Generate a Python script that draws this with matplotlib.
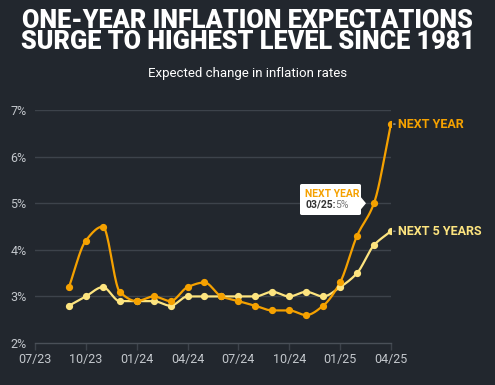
import numpy as np
import matplotlib.pyplot as plt
from matplotlib.patches import FancyBboxPatch, Polygon

# months since 07/23 (0 = 07/23)
months = list(range(2, 22))
next_year = [3.2, 4.2, 4.5, 3.1, 2.9, 3.0, 2.9, 3.2, 3.3, 3.0,
             2.9, 2.8, 2.7, 2.7, 2.6, 2.8, 3.3, 4.3, 5.0, 6.7]
next_5_years = [2.8, 3.0, 3.2, 2.9, 2.9, 2.9, 2.8, 3.0, 3.0, 3.0,
                3.0, 3.0, 3.1, 3.0, 3.1, 3.0, 3.2, 3.5, 4.1, 4.4]
tick_pos = [0, 3, 6, 9, 12, 15, 18, 21]
tick_labels = ["07/23", "10/23", "01/24", "04/24", "07/24", "10/24", "01/25", "04/25"]
y_ticks = [2, 3, 4, 5, 6, 7]

BG = "#22272e"
ORANGE = "#f5a100"
YELLOW = "#fde47f"
GRID = "#3d434b"
TICK = "#c3c7cc"


def monotone(x, y, n=20):
    # monotone cubic curve (like d3 curveMonotoneX) for drawing the line
    x = np.asarray(x, float)
    y = np.asarray(y, float)
    h = np.diff(x)
    d = np.diff(y) / h
    m = np.zeros_like(y)
    m[0], m[-1] = d[0], d[-1]
    for i in range(1, len(y) - 1):
        if d[i - 1] * d[i] <= 0:
            m[i] = 0
        else:
            w1 = 2 * h[i] + h[i - 1]
            w2 = h[i] + 2 * h[i - 1]
            m[i] = (w1 + w2) / (w1 / d[i - 1] + w2 / d[i])
    xs, ys = [], []
    for i in range(len(x) - 1):
        t = np.linspace(0, 1, n, endpoint=False)
        h00 = 2 * t**3 - 3 * t**2 + 1
        h10 = t**3 - 2 * t**2 + t
        h01 = -2 * t**3 + 3 * t**2
        h11 = t**3 - t**2
        xs.append(x[i] + t * h[i])
        ys.append(h00 * y[i] + h10 * h[i] * m[i] + h01 * y[i + 1] + h11 * h[i] * m[i + 1])
    xs.append([x[-1]])
    ys.append([y[-1]])
    return np.concatenate(xs), np.concatenate(ys)


plt.rcParams['font.family'] = ['Roboto', 'DejaVu Sans']

fig = plt.figure(figsize=(4.95, 3.85), dpi=100, facecolor=BG)
ax = fig.add_axes([0.0707, 0.109, 0.719, 0.605], facecolor=BG)

for yv in y_ticks[1:]:
    ax.axhline(yv, color=GRID, linewidth=1, zorder=1)

for vals, col in [(next_5_years, YELLOW), (next_year, ORANGE)]:
    sx, sy = monotone(months, vals)
    ax.plot(sx, sy, color=col, linewidth=1.6, zorder=3, solid_capstyle='round')
    ax.plot(months, vals, 'o', color=col, markersize=4.2, zorder=4)

ax.set_xlim(0, 21)
ax.set_ylim(2, 7)
ax.set_xticks(tick_pos)
ax.set_xticklabels(tick_labels)
ax.set_yticks(y_ticks)
ax.set_yticklabels([f"{v}%" for v in y_ticks])
ax.tick_params(axis='x', colors=TICK, labelsize=9, length=5, width=1, color=GRID, pad=2)
ax.tick_params(axis='y', colors=TICK, labelsize=9, length=0, pad=6)
for s in ['top', 'right', 'left']:
    ax.spines[s].set_visible(False)
ax.spines['bottom'].set_color("#4a5058")
ax.spines['bottom'].set_linewidth(1)

# end labels
for vals, col, lab in [(next_year, ORANGE, "NEXT YEAR"), (next_5_years, YELLOW, "NEXT 5 YEARS")]:
    ax.annotate(lab, xy=(months[-1], vals[-1]), xytext=(5, 0),
                textcoords='offset points', color=col, fontsize=9, fontweight='bold',
                va='center', ha='left', annotation_clip=False,
                arrowprops=dict(arrowstyle='-', color="#9aa0a6", lw=1, shrinkA=0, shrinkB=2))

# tooltip at 03/25
tip_i = months.index(20)
px, py = ax.transData.transform((months[tip_i], next_year[tip_i]))
inv = fig.transFigure.inverted()
W, H = 495, 385
bx0, by0 = 300 / W, 1 - 215 / H
bw, bh = 61 / W, 31 / H
box = FancyBboxPatch((bx0, by0), bw, bh, boxstyle="round,pad=0,rounding_size=0.004",
                     transform=fig.transFigure, facecolor="white", edgecolor="none", zorder=5)
fig.patches.append(box)
cx, cy = inv.transform((px, py))
tri = Polygon([[bx0 + bw, cy + 6 / H], [bx0 + bw + 5 / W, cy], [bx0 + bw, cy - 6 / H]],
              closed=True, transform=fig.transFigure, facecolor="white", edgecolor="none", zorder=5)
fig.patches.append(tri)
fig.text(bx0 + 5 / W, by0 + bh - 5 / H, "NEXT YEAR", color=ORANGE, fontsize=7.5,
         fontweight='bold', va='top', ha='left', zorder=6)
fig.text(bx0 + 5 / W, by0 + 5 / H, "03/25:", color="#333333", fontsize=7.5,
         fontweight='bold', va='bottom', ha='left', zorder=6)
fig.text(bx0 + 35 / W, by0 + 5 / H, "5%", color="#777777", fontsize=7.5,
         va='bottom', ha='left', zorder=6)

# titles
fig.text(0.5, 1 - 31.5 / H, "ONE-YEAR INFLATION EXPECTATIONS\nSURGE TO HIGHEST LEVEL SINCE 1981",
         color="white", fontsize=18.2, fontweight=900, ha='center', va='center',
         linespacing=0.85)
fig.text(0.5, 1 - 73 / H, "Expected change in inflation rates", color="white",
         fontsize=9.5, ha='center', va='center')

fig.savefig("out.png", dpi=100, facecolor=BG)
